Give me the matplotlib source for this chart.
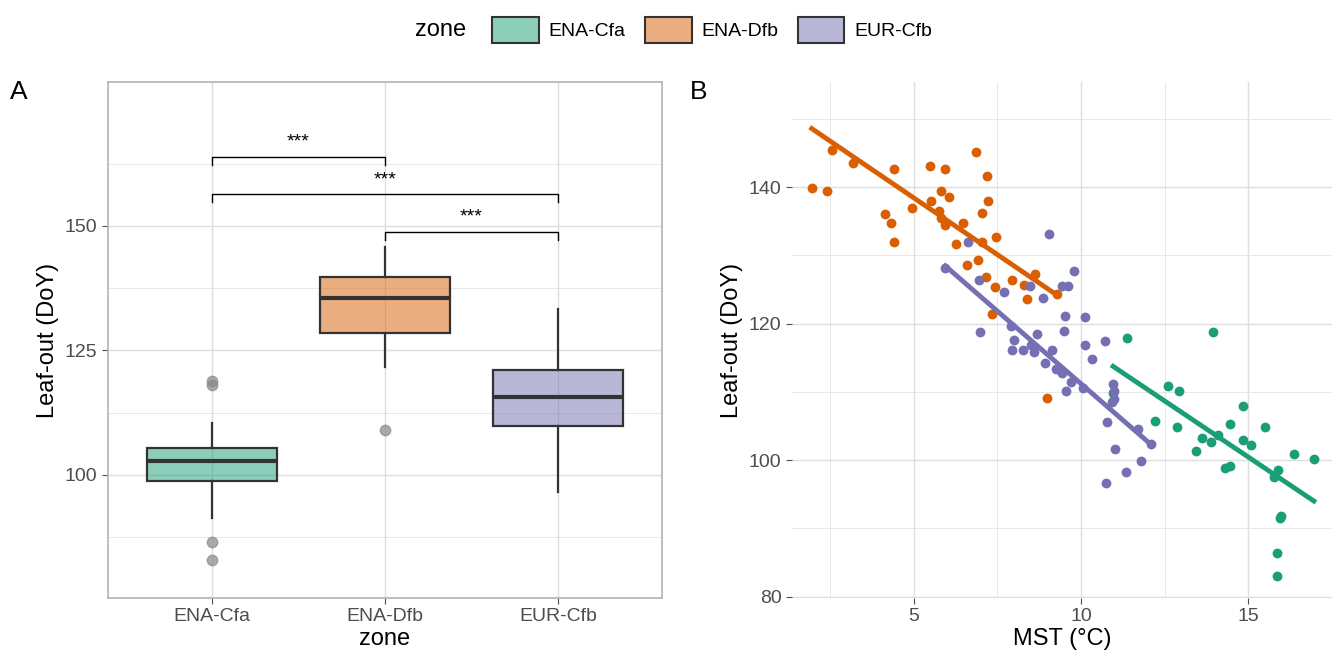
import numpy as np
import matplotlib.pyplot as plt
from matplotlib.patches import Patch
from matplotlib.colors import to_rgba

plt.rcParams['font.family'] = ['Liberation Sans', 'DejaVu Sans']

zones = ['ENA-Cfa', 'ENA-Dfb', 'EUR-Cfb']
colors = ['#1b9e77', '#d95f02', '#7570b3']

# box stats
box_low = [91.4, 121.7, 96.6]
box_q1 = [98.8, 128.5, 109.8]
box_med = [102.8, 135.5, 115.7]
box_q3 = [105.4, 139.8, 121.1]
box_high = [110.4, 145.8, 133.3]
outliers = [[118.9, 118.1, 86.5, 82.9], [109.0], []]

# scatter data for panel B
cfa_x = [11.39, 13.96, 12.60, 12.92, 10.96, 12.21, 12.86, 14.84, 14.46, 15.50, 13.61, 14.08,
         13.90, 14.84, 15.07, 13.43, 16.35, 16.96, 14.29, 14.46, 15.89, 15.77, 15.98, 15.95,
         15.86, 15.86]
cfa_y = [117.9, 118.7, 110.8, 110.2, 109.9, 105.7, 104.8, 107.9, 105.3, 104.8, 103.3, 103.7,
         102.6, 102.9, 102.2, 101.3, 100.9, 100.1, 98.8, 99.2, 98.5, 97.6, 91.8, 91.5, 86.4, 83.0]
dfb_x = [1.96, 2.41, 2.56, 3.18, 4.43, 4.16, 4.34, 4.43, 4.94, 5.48, 5.51, 5.95, 5.83, 6.07,
         5.77, 5.83, 5.95, 6.49, 6.28, 6.61, 6.88, 7.19, 7.22, 7.04, 7.04, 6.94, 7.47, 7.16,
         7.42, 7.95, 8.30, 8.63, 8.39, 9.28, 8.99, 7.34]
dfb_y = [139.8, 139.5, 145.5, 143.6, 142.6, 136.0, 134.7, 131.9, 136.9, 143.1, 138.0, 142.6,
         139.5, 138.6, 136.5, 135.5, 134.5, 134.7, 131.6, 128.6, 145.2, 141.7, 137.9, 136.2,
         131.9, 129.3, 132.7, 126.9, 125.3, 126.4, 125.7, 127.2, 123.6, 124.4, 109.1, 121.4]
eur_x = [6.64, 9.04, 5.95, 6.96, 7.71, 8.48, 8.86, 9.43, 9.61, 9.79, 7.92, 8.69, 8.51, 9.52,
         10.11, 7.99, 9.13, 6.99, 7.95, 8.27, 8.60, 8.92, 9.25, 9.43, 9.70, 9.49, 10.11, 10.71,
         10.32, 10.95, 9.55, 10.92, 10.06, 11.00, 10.98, 10.77, 11.70, 12.09, 11.01, 11.80,
         11.36, 10.74]
eur_y = [131.9, 133.2, 128.1, 126.4, 124.7, 125.5, 123.8, 125.5, 125.5, 127.7, 119.7, 118.5,
         116.8, 121.1, 120.9, 117.6, 116.2, 118.8, 116.2, 116.1, 115.8, 114.3, 113.3, 112.8,
         111.4, 118.9, 116.8, 117.4, 114.8, 111.1, 110.2, 108.5, 110.6, 110.1, 109.0, 105.6,
         104.5, 102.3, 101.7, 99.8, 98.2, 96.6]
groups_x = [cfa_x, dfb_x, eur_x]
groups_y = [cfa_y, dfb_y, eur_y]

# fitted lines (slope, intercept)
fit_slope = [-3.29, -3.33, -4.26]
fit_icpt = [149.8, 155.1, 153.8]

fig = plt.figure(figsize=(13.32, 6.59), dpi=100)
W, H = 1332, 659
axA = fig.add_axes([108 / W, 1 - 598 / H, (662 - 108) / W, (598 - 82) / H])
axB = fig.add_axes([792 / W, 1 - 598 / H, (1332 - 792) / W, (598 - 82) / H])

grid_c = '#dedede'
tick_c = '#4d4d4d'

# ---- panel A
stats = []
for i in range(3):
    stats.append(dict(whislo=box_low[i], q1=box_q1[i], med=box_med[i], q3=box_q3[i],
                      whishi=box_high[i], fliers=outliers[i]))
bp = axA.bxp(stats, positions=[1, 2, 3], widths=0.75, patch_artist=True, showcaps=False,
             boxprops=dict(edgecolor='#333333', linewidth=1.6),
             medianprops=dict(color='#333333', linewidth=3),
             whiskerprops=dict(color='#333333', linewidth=1.6),
             flierprops=dict(marker='o', markerfacecolor='#888888', markeredgecolor='#888888',
                             alpha=0.7, markersize=7.5))
for patch, c in zip(bp['boxes'], colors):
    patch.set_facecolor(to_rgba(c, 0.5))
axA.set_xlim(0.4, 3.6)
axA.set_ylim(75.3, 178.9)
axA.set_yticks([100, 125, 150])
axA.set_yticks([87.5, 112.5, 137.5, 162.5], minor=True)
axA.set_xticks([1, 2, 3])
axA.set_xticklabels(zones)
axA.grid(True, which='major', color=grid_c, linewidth=1)
axA.grid(True, which='minor', color=grid_c, linewidth=0.5)
axA.set_axisbelow(True)
for s in axA.spines.values():
    s.set_color('#b3b3b3')
    s.set_linewidth(1.2)
axA.tick_params(which='both', length=4, colors=tick_c, labelsize=14)
axA.tick_params(which='minor', length=0)
axA.set_xlabel('zone', fontsize=17, labelpad=2)
axA.set_ylabel('Leaf-out (DoY)', fontsize=17)

brackets = [(1, 2, 163.9), (1, 3, 156.4), (2, 3, 148.8)]
for a, b, y in brackets:
    axA.plot([a, a, b, b], [y - 1.6, y, y, y - 1.6], color='black', linewidth=1)
    axA.text((a + b) / 2, y + 1.2, '***', ha='center', va='bottom', fontsize=14)

# ---- panel B
for xs, ys, c in zip(groups_x, groups_y, colors):
    axB.scatter(xs, ys, s=50, color=c, zorder=3, linewidths=0)
for xs, k, m, c in zip(groups_x, fit_slope, fit_icpt, colors):
    xx = np.array([min(xs), max(xs)])
    axB.plot(xx, k * xx + m, color=c, linewidth=3.5, zorder=4)
axB.set_xlim(1.37, 17.44)
axB.set_ylim(79.8, 155.4)
axB.set_xticks([5, 10, 15])
axB.set_xticks([2.5, 7.5, 12.5, 17.5], minor=True)
axB.set_yticks([80, 100, 120, 140])
axB.set_yticks([90, 110, 130, 150], minor=True)
axB.grid(True, which='major', color=grid_c, linewidth=1)
axB.grid(True, which='minor', color=grid_c, linewidth=0.5)
axB.set_axisbelow(True)
for s in axB.spines.values():
    s.set_visible(False)
axB.tick_params(which='both', length=4, colors=tick_c, labelsize=14)
axB.tick_params(which='minor', length=0)
axB.set_xlabel('MST (°C)', fontsize=17, labelpad=2)
axB.set_ylabel('Leaf-out (DoY)', fontsize=17)

fig.text(10 / W, 1 - 92 / H, 'A', fontsize=19, va='center')
fig.text(690 / W, 1 - 92 / H, 'B', fontsize=19, va='center')

# legend
handles = [Patch(facecolor=to_rgba(c, 0.5), edgecolor='#333333', linewidth=1.5, label=z)
           for z, c in zip(zones, colors)]
fig.legend(handles=handles, loc='center', bbox_to_anchor=(712 / W, 1 - 30 / H), ncol=3,
           frameon=False, fontsize=14, handlelength=2.4, handleheight=1.7,
           columnspacing=1.0, handletextpad=0.5)
fig.text(415 / W, 1 - 30 / H, 'zone', fontsize=17, va='center')

fig.savefig('out.png', dpi=100)
